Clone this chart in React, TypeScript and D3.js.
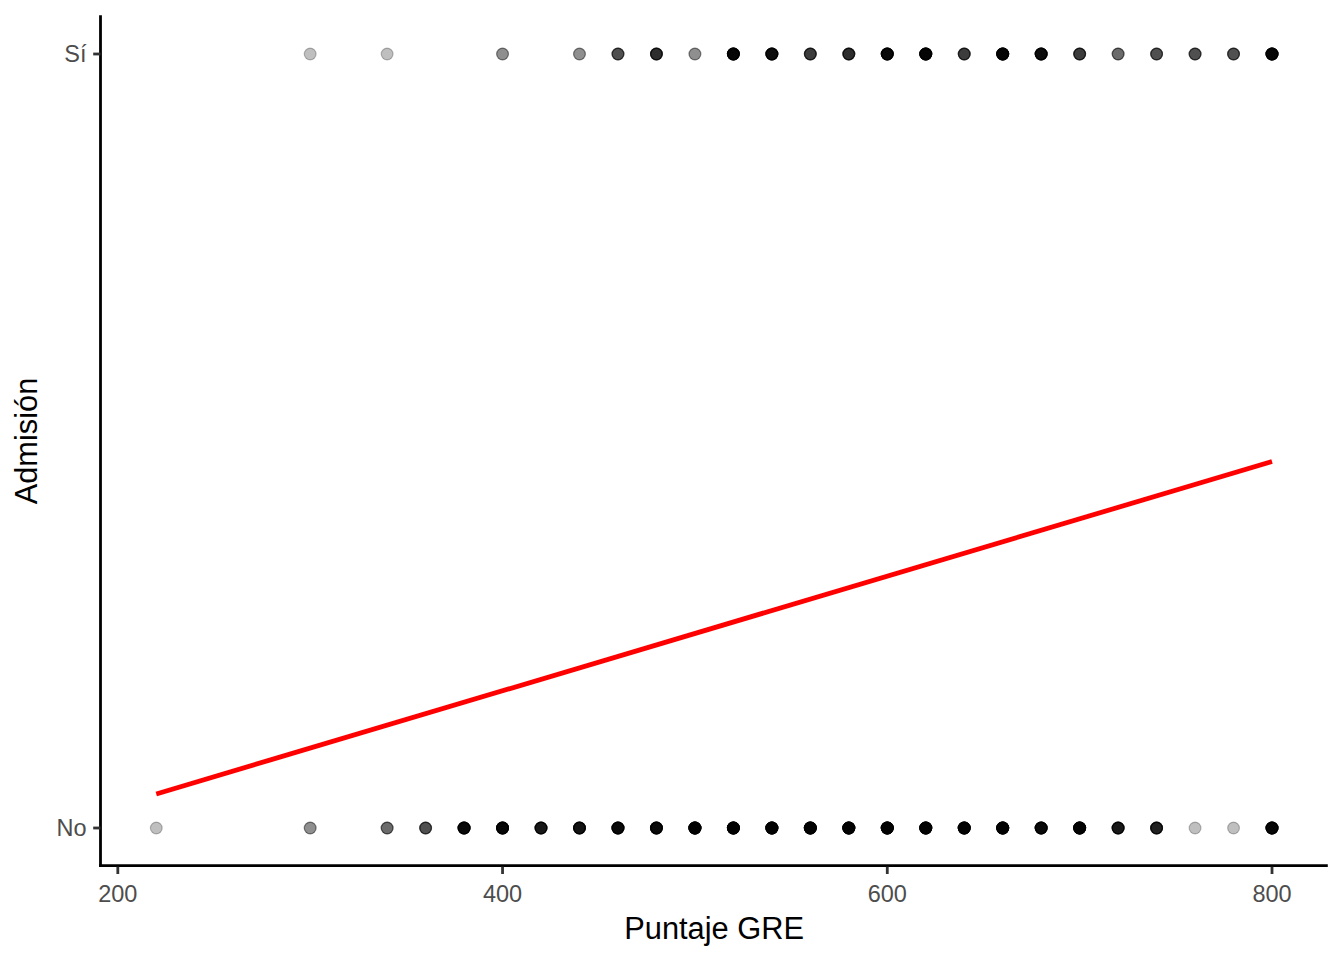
import React from "react";
import * as d3 from "d3";

const greValues = [220, 300, 340, 360, 380, 400, 420, 440, 460, 480, 500, 520, 540, 560, 580, 600, 620, 640, 660, 680, 700, 720, 740, 760, 780, 800];
// number of observations at each GRE score (read from point darkness)
const countsNo = [1, 2, 3, 4, 11, 12, 8, 9, 11, 11, 16, 16, 15, 15, 15, 16, 15, 14, 16, 11, 15, 8, 7, 1, 1, 12];
const countsSi = [0, 1, 1, 0, 0, 2, 0, 2, 4, 6, 2, 12, 10, 5, 6, 11, 13, 5, 13, 10, 5, 3, 4, 4, 4, 12];
const yCategories = ["No", "Sí"];
const xTicks = [200, 400, 600, 800];
const fitX = [220, 800];
const fitY = [1.044, 1.4735];

const W = 1344;
const H = 960;
const left = 100.5;
const right = 1327.8;
const top = 15.3;
const bottom = 866.7;

export default function App() {
  const x = d3.scaleLinear().domain([191, 829]).range([left, right]);
  const y = d3.scaleLinear().domain([0.95, 2.05]).range([bottom, top]);

  const points: { gx: number; cat: number; key: string }[] = [];
  greValues.forEach((g, i) => {
    for (let k = 0; k < countsNo[i]; k++) points.push({ gx: g, cat: 1, key: `n${i}-${k}` });
    for (let k = 0; k < countsSi[i]; k++) points.push({ gx: g, cat: 2, key: `s${i}-${k}` });
  });

  const line = d3
    .line<number>()
    .x((_, i) => x(fitX[i]))
    .y((d) => y(d));

  const font = "'Liberation Sans', Arial, sans-serif";

  return (
    <svg width={W} height={H} style={{ position: "absolute", left: 0, top: 0, background: "#fff" }}>
      <rect width={W} height={H} fill="#fff" />
      {points.map((p) => (
        <circle
          key={p.key}
          cx={x(p.gx)}
          cy={y(p.cat)}
          r={5.9}
          fill="#000"
          fillOpacity={0.25}
          stroke="#000"
          strokeOpacity={0.25}
          strokeWidth={1.2}
        />
      ))}
      <path d={line(fitY) || ""} fill="none" stroke="#ff0000" strokeWidth={4.8} />
      {/* axes */}
      <line x1={left} x2={left} y1={top} y2={bottom + 0.3} stroke="#000" strokeWidth={2.8} strokeLinecap="butt" />
      <line x1={left - 1.4} x2={right} y1={bottom - 1} y2={bottom - 1} stroke="#000" strokeWidth={2.8} />
      {xTicks.map((t) => (
        <g key={t}>
          <line x1={x(t)} x2={x(t)} y1={bottom} y2={bottom + 7.3} stroke="#333333" strokeWidth={2.8} />
          <text x={x(t)} y={902} textAnchor="middle" fontFamily={font} fontSize={23.5} fill="#4D4D4D">
            {t}
          </text>
        </g>
      ))}
      {yCategories.map((c, i) => (
        <g key={c}>
          <line x1={left - 7.3} x2={left} y1={y(i + 1)} y2={y(i + 1)} stroke="#333333" strokeWidth={2.8} />
          <text x={86.5} y={y(i + 1) + 8.4} textAnchor="end" fontFamily={font} fontSize={23.5} fill="#4D4D4D">
            {c}
          </text>
        </g>
      ))}
      <text x={(left + right) / 2} y={938.5} textAnchor="middle" fontFamily={font} fontSize={30.8} fill="#000">
        Puntaje GRE
      </text>
      <text
        transform={`translate(37, ${(top + bottom) / 2}) rotate(-90)`}
        textAnchor="middle"
        fontFamily={font}
        fontSize={30.8}
        fill="#000"
      >
        Admisión
      </text>
    </svg>
  );
}
